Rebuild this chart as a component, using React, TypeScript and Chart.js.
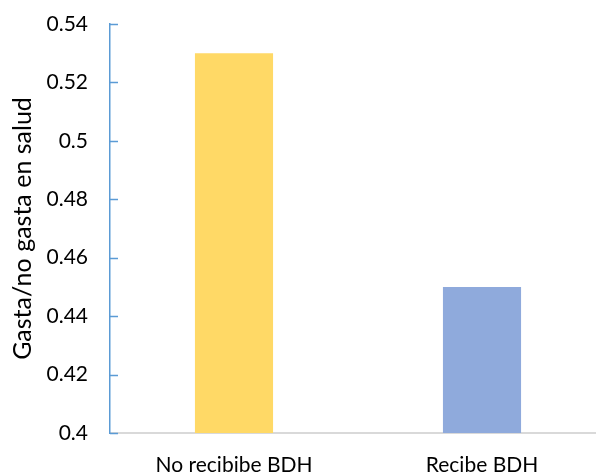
import React, { useEffect, useRef } from "react";
import { Chart, registerables } from "chart.js";

Chart.register(...registerables);

const categories = ["No recibibe BDH", "Recibe BDH"];
const shareValues = [0.53, 0.45];
const barColors = ["#FFD966", "#8FAADC"];
const yMin = 0.4;
const yMax = 0.54;
const yStep = 0.02;
const yTitle = "Gasta/no gasta en salud";

const FONT = "Lato, 'Open Sans', sans-serif";

// Short tick marks drawn inside the plot along the y axis line
const innerTicks = {
  id: "innerTicks",
  afterDraw(chart: any) {
    const y = chart.scales.y;
    const left = chart.chartArea.left;
    const ctx = chart.ctx;
    ctx.save();
    ctx.strokeStyle = "#5B9BD5";
    ctx.lineWidth = 1.5;
    y.ticks.forEach((t: any) => {
      const py = Math.round(y.getPixelForValue(t.value)) + 0.5;
      ctx.beginPath();
      ctx.moveTo(left, py);
      ctx.lineTo(left + 8, py);
      ctx.stroke();
    });
    ctx.restore();
  },
};

export default function App() {
  const ref = useRef<HTMLCanvasElement>(null);

  useEffect(() => {
    if (!ref.current) return;
    const chart = new Chart(ref.current, {
      type: "bar",
      data: {
        labels: categories,
        datasets: [
          {
            data: shareValues,
            backgroundColor: barColors,
            borderWidth: 0,
            barPercentage: 0.315,
            categoryPercentage: 1,
          },
        ],
      },
      options: {
        responsive: false,
        animation: false,
        layout: { padding: { top: 24, right: 0, left: 0, bottom: 0 } },
        plugins: { legend: { display: false }, tooltip: { enabled: false } },
        scales: {
          x: {
            grid: { display: false, drawTicks: false },
            border: { color: "#D9D9D9", width: 2 },
            ticks: {
              color: "#000",
              font: { family: FONT, size: 21 },
              padding: 20,
              maxRotation: 0,
            },
            afterFit: (s: any) => {
              s.height = 40;
              s.paddingLeft = 0;
              s.paddingRight = 0;
            },
          },
          y: {
            min: yMin,
            max: yMax,
            grid: { display: false, drawTicks: false },
            border: { color: "#5B9BD5", width: 1.5 },
            ticks: {
              stepSize: yStep,
              color: "#000",
              font: { family: FONT, size: 21 },
              padding: 22,
              callback: (v: any) => String(Math.round(Number(v) * 100) / 100),
            },
            title: {
              display: true,
              text: yTitle,
              color: "#000",
              font: { family: FONT, size: 25 },
              padding: { top: 8, bottom: 0 },
            },
            afterFit: (s: any) => {
              s.width = 110;
              s.paddingTop = 0;
              s.paddingBottom = 0;
            },
          },
        },
      },
      plugins: [innerTicks],
    });
    return () => chart.destroy();
  }, []);

  return (
    <div
      style={{
        position: "fixed",
        left: 0,
        top: 0,
        width: 596,
        height: 473,
        overflow: "hidden",
        background: "#fff",
      }}
    >
      <canvas ref={ref} width={606} height={473} style={{ display: "block" }} />
    </div>
  );
}
